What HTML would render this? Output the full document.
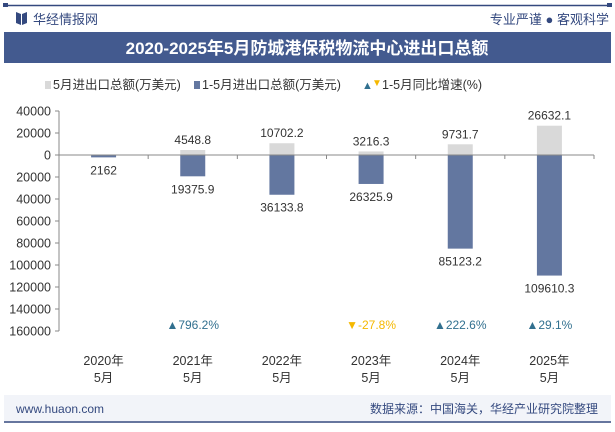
<!DOCTYPE html>
<html><head><meta charset="utf-8">
<style>
body{margin:0;width:615px;height:427px;overflow:hidden;background:#fff;font-family:"Liberation Sans","Noto Sans CJK SC",sans-serif;}
svg text{font-family:"Liberation Sans","Noto Sans CJK SC",sans-serif;}
</style></head>
<body>
<svg id="chart" width="615" height="427">
  <line x1="4" y1="5.5" x2="611" y2="5.5" stroke="#34497f" stroke-width="1.5"/>
  <rect x="3" y="3" width="5" height="4" fill="#34497f"/><rect x="607" y="3" width="5" height="4" fill="#34497f"/>
  <g>
    <path d="M16 12 L21 14 L21 25 L16 23 Z" fill="#34497f"/><path d="M27 12 L22 14 L22 25 L27 23 Z" fill="#34497f"/>
  </g>
  <text x="33" y="24" font-size="13" fill="#34497f">华经情报网</text>
  <text x="609" y="24" font-size="13" fill="#34497f" text-anchor="end">专业严谨 ● 客观科学</text>
  <rect x="4" y="32" width="607" height="31" fill="#435a8f"/>
  <text x="307" y="54" font-size="17" font-weight="bold" fill="#fff" text-anchor="middle" font-family="Liberation Serif,Noto Serif CJK SC,serif">2020-2025年5月防城港保税物流中心进出口总额</text>
  <g>
    <rect x="45" y="81" width="6" height="8" fill="#d9d9d9"/>
    <text x="53" y="89" font-size="12.5" fill="#333">5月进出口总额(万美元)</text>
    <rect x="194" y="81" width="6" height="8" fill="#6377a0"/>
    <text x="202" y="89" font-size="12.5" fill="#333">1-5月进出口总额(万美元)</text>
    <text x="362" y="89" font-size="11" fill="#31708f">▲</text>
    <text x="372" y="86" font-size="10" fill="#f5b800">▼</text>
    <text x="382" y="89" font-size="12.5" fill="#333">1-5月同比增速(%)</text>
  </g>
  <g id="plot"></g>
  <rect x="4" y="395" width="607" height="26" fill="#f2f4f9"/>
  <line x1="4" y1="422" x2="611" y2="422" stroke="#34497f" stroke-width="1.5"/>
  <text x="16" y="413" font-size="12" fill="#34497f">www.huaon.com</text>
  <text x="598" y="413" font-size="12" fill="#34497f" text-anchor="end">数据来源：中国海关，华经产业研究院整理</text>
</svg>
<script>
const categories=["2020年","2021年","2022年","2023年","2024年","2025年"];
const mayValues=[0,4548.8,10702.2,3216.3,9731.7,26632.1];
const mayLabels=["","4548.8","10702.2","3216.3","9731.7","26632.1"];
const cumValues=[2162,19375.9,36133.8,26325.9,85123.2,109610.3];
const cumLabels=["2162","19375.9","36133.8","26325.9","85123.2","109610.3"];
const growth=[null,796.2,null,-27.8,222.6,29.1];
const growthLabels=["","796.2%","","-27.8%","222.6%","29.1%"];
const yTicks=[40000,20000,0,-20000,-40000,-60000,-80000,-100000,-120000,-140000,-160000];
const NS="http://www.w3.org/2000/svg";
const plot=document.getElementById('plot');
const x0=59,x1=594,yTop=111,yBot=331,vMax=40000,vMin=-160000;
const yS=v=>yTop+(vMax-v)/(vMax-vMin)*(yBot-yTop);
const band=(x1-x0)/categories.length;
const xC=i=>x0+band*(i+0.5);
function el(t,a,txt){const e=document.createElementNS(NS,t);for(const k in a)e.setAttribute(k,a[k]);if(txt!=null)e.textContent=txt;plot.appendChild(e);return e;}
let ax=el('line',{x1:x0,y1:yTop,x2:x0,y2:yBot,stroke:'#888'});


yTicks.forEach(t=>{
  const y=yS(t);
  el('line',{x1:x0-4,y1:y,x2:x0,y2:y,stroke:'#888'});
  const tx=el('text',{x:x0-8,y:y+4.5,'font-size':12.5,fill:'#333','text-anchor':'end'},String(Math.abs(t)));
  
  
});
const bw=25;
categories.forEach((c,i)=>{
  const cx=xC(i);
  el('line',{x1:x0+band*(i+1),y1:yS(0),x2:x0+band*(i+1),y2:yS(0)+4,stroke:'#888'});
  if(mayValues[i]>0){
    const r=el('rect',{x:cx-bw/2,y:yS(mayValues[i]),width:bw,height:yS(0)-yS(mayValues[i]),fill:'#d9d9d9'});
    
    
  }
  const r2=el('rect',{x:cx-bw/2,y:yS(0),width:bw,height:yS(-cumValues[i])-yS(0),fill:'#6377a0'});
  
  
  if(mayLabels[i]){
    const t=el('text',{x:cx,y:yS(mayValues[i])-6,'font-size':12,fill:'#333','text-anchor':'middle'},mayLabels[i]);
    
    
  }
  const t2=el('text',{x:cx,y:yS(-cumValues[i])+17,'font-size':12,fill:'#333','text-anchor':'middle'},cumLabels[i]);
  
  
  if(growth[i]!=null){
    const up=growth[i]>=0;
    const g=el('text',{x:cx,y:329,'font-size':12,fill:up?'#31708f':'#f5b800','text-anchor':'middle'},(up?'▲':'▼')+growthLabels[i]);
    
    
  }
  const l1=el('text',{x:cx,y:365,'font-size':12.5,fill:'#333','text-anchor':'middle'},c);
  
  
  el('text',{x:cx,y:382,'font-size':12.5,fill:'#333','text-anchor':'middle'},'5月');
});
const zl=el('line',{x1:x0,y1:yS(0),x2:x1,y2:yS(0),stroke:'#888'});


</script>
</body></html>
